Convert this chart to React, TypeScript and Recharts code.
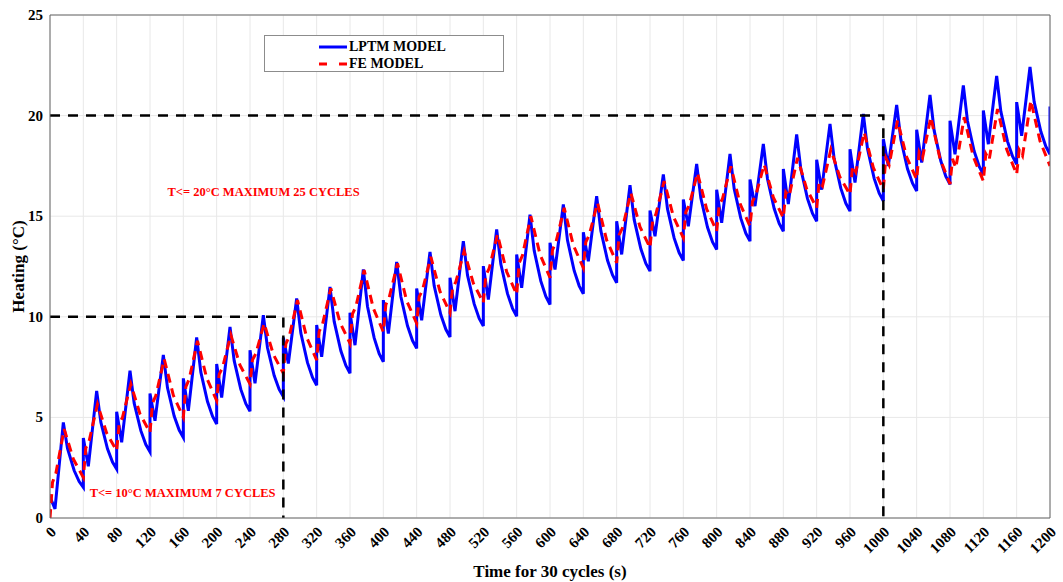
import {
  LineChart,
  Line,
  XAxis,
  YAxis,
  CartesianGrid,
  Legend,
  ReferenceDot,
} from "recharts";

const FONT = "'Liberation Serif', 'Times New Roman', serif";

const cycleStarts = [
  0, 40, 80, 120, 160, 200, 240, 280, 320, 360, 400, 440, 480, 520, 560, 600,
  640, 680, 720, 760, 800, 840, 880, 920, 960, 1000, 1040, 1080, 1120, 1160,
];

// LPTM model, values read per cycle
const lptmJump = [
  1.05, 3.97, 5.28, 6.19, 6.94, 7.65, 8.34, 8.97, 9.59, 10.2, 10.83, 11.41,
  11.94, 12.52, 13.1, 13.68, 14.2, 14.75, 15.28, 15.83, 16.32, 16.82, 17.35,
  17.81, 18.33, 18.83, 19.3, 19.75, 20.25, 20.67,
];
const lptmDip = [
  0.45, 2.57, 3.76, 4.83, 5.33, 5.99, 6.69, 7.68, 8.01, 8.59, 9.17, 9.83,
  10.28, 10.86, 11.44, 12.35, 12.76, 13.1, 14.0, 14.5, 14.67, 15.5, 15.6,
  16.32, 16.67, 17.5, 17.67, 18.08, 18.58, 19.0,
];
const lptmPeak = [
  4.75, 6.32, 7.32, 8.11, 8.97, 9.5, 10.08, 10.91, 11.49, 12.35, 12.73, 13.23,
  13.76, 14.34, 15.08, 15.58, 16.0, 16.54, 17.07, 17.6, 18.1, 18.59, 19.06,
  19.59, 20.08, 20.53, 21.03, 21.5, 21.97, 22.42,
];
const lptmFall1 = [
  3.46, 4.76, 5.71, 6.47, 7.25, 7.82, 8.46, 9.19, 9.77, 10.51, 11.01, 11.54,
  12.07, 12.62, 13.29, 13.8, 14.28, 14.83, 15.36, 15.9, 16.36, 16.85, 17.34,
  17.85, 18.35, 18.82, 19.25, 19.73, 20.21, 20.68,
];
const lptmFall2 = [
  2.36, 3.44, 4.34, 5.07, 5.79, 6.39, 7.08, 7.72, 8.31, 8.95, 9.55, 10.1,
  10.64, 11.15, 11.77, 12.29, 12.81, 13.38, 13.91, 14.45, 14.89, 15.38, 15.87,
  16.38, 16.88, 17.36, 17.74, 18.23, 18.72, 19.21,
];
const lptmFall3 = [
  1.81, 2.78, 3.65, 4.37, 5.06, 5.68, 6.39, 6.99, 7.58, 8.17, 8.82, 9.38,
  9.92, 10.42, 11.01, 11.54, 12.08, 12.65, 13.18, 13.72, 14.15, 14.64, 15.14,
  15.64, 16.14, 16.64, 16.98, 17.48, 17.98, 18.47,
];
const lptmTrough = [
  1.52, 2.43, 3.29, 4.0, 4.67, 5.3, 6.03, 6.6, 7.19, 7.76, 8.43, 9.0, 9.54,
  10.03, 10.61, 11.14, 11.69, 12.27, 12.8, 13.34, 13.76, 14.25, 14.75, 15.25,
  15.75, 16.25, 16.58, 17.08, 17.58, 18.08,
];
const lptmEnd = 20.45;
const lptmOffsets = [0, 6, 16, 21, 29, 35, 40];

// FE model
const feTrough = [
  0, 2.02, 3.34, 4.25, 5.0, 5.83, 6.66, 7.19, 7.85, 8.68, 9.25, 9.67, 10.2,
  10.7, 11.11, 11.94, 12.43, 12.68, 13.43, 13.92, 14.25, 14.5, 14.92, 15.41,
  16.08, 16.33, 16.83, 16.6, 16.75, 17.08, 17.5,
];
const feRise = [
  1.77, 3.48, 4.67, 5.71, 6.52, 7.14, 7.86, 8.65, 9.27, 10.14, 10.61, 10.99,
  11.42, 12.06, 12.67, 13.33, 13.72, 14.07, 14.75, 15.21, 15.54, 15.73, 16.2,
  16.7, 17.5, 17.9, 18.2, 17.85, 18.1, 18.3,
];
const feShoulder = [
  2.21, 3.84, 5.0, 6.08, 6.9, 7.47, 8.17, 9.01, 9.63, 10.5, 10.95, 11.33,
  11.73, 12.4, 13.06, 13.68, 14.05, 14.42, 15.09, 15.54, 15.87, 16.04, 16.0,
  16.5, 17.2, 17.55, 17.9, 17.4, 17.8, 18.0,
];
const fePeak = [
  4.42, 5.66, 6.66, 7.9, 8.8, 9.1, 9.67, 10.83, 11.41, 12.32, 12.65, 12.98,
  13.26, 14.09, 15.0, 15.41, 15.66, 16.16, 16.74, 17.15, 17.48, 17.57, 17.9,
  18.31, 19.17, 19.75, 19.92, 19.92, 20.33, 20.75,
];
const feFall = [
  2.93, 4.22, 5.17, 6.1, 6.96, 7.59, 8.13, 8.98, 9.72, 10.42, 10.8, 11.26,
  11.67, 12.24, 13.1, 13.56, 13.81, 14.47, 14.99, 15.35, 15.63, 15.93, 16.36,
  16.93, 17.41, 17.94, 17.86, 17.95, 18.32, 18.74,
];
const feOffsets = [0, 3, 7, 17, 28];

const limitTemps = [10, 20];
const limitTimes = [280, 1000];
const limitNotes = ["T<= 10°C MAXIMUM 7 CYCLES", "T<= 20°C MAXIMUM 25 CYCLES"];

const xTicks = [
  0, 40, 80, 120, 160, 200, 240, 280, 320, 360, 400, 440, 480, 520, 560, 600,
  640, 680, 720, 760, 800, 840, 880, 920, 960, 1000, 1040, 1080, 1120, 1160,
  1200,
];
const yTicks = [0, 5, 10, 15, 20, 25];
const yMinorTicks = [
  0, 1, 2, 3, 4, 5, 6, 7, 8, 9, 10, 11, 12, 13, 14, 15, 16, 17, 18, 19, 20, 21,
  22, 23, 24, 25,
];

const series = [
  { name: "LPTM MODEL", color: "#0000ff", dash: undefined as string | undefined },
  { name: "FE MODEL", color: "#ff0000", dash: "9 6" },
];

const lptmData = cycleStarts.flatMap((s, k) =>
  [
    lptmJump[k],
    lptmDip[k],
    lptmPeak[k],
    lptmFall1[k],
    lptmFall2[k],
    lptmFall3[k],
    lptmTrough[k],
  ].map((v, i) => ({ t: s + lptmOffsets[i], v }))
);
lptmData.push({ t: 1200, v: lptmEnd });

const feData = cycleStarts.flatMap((s, k) =>
  [feTrough[k], feRise[k], feShoulder[k], fePeak[k], feFall[k]].map((v, i) => ({
    t: s + feOffsets[i],
    v,
  }))
);
feData.push({ t: 1200, v: feTrough[30] });

const guides = limitTemps.map((temp, i) => [
  { t: 0, v: temp },
  { t: limitTimes[i], v: temp },
  { t: limitTimes[i], v: 0 },
]);

const XTick = ({ x, y, payload }: any) => (
  <text
    x={x + 7}
    y={y}
    transform={`rotate(-45 ${x + 7} ${y})`}
    textAnchor="end"
    fontFamily={FONT}
    fontWeight="bold"
    fontSize={15}
    fill="#000"
  >
    {payload.value}
  </text>
);

const YTick = ({ x, y, payload }: any) => (
  <text
    x={x}
    y={y}
    dy={5}
    textAnchor="end"
    fontFamily={FONT}
    fontWeight="bold"
    fontSize={15}
    fill="#000"
  >
    {payload.value}
  </text>
);

const LegendBox = () => (
  <div
    style={{
      width: 240,
      height: 37,
      boxSizing: "border-box",
      border: "1px solid #8c8c8c",
      background: "#fff",
      paddingTop: 2,
      fontFamily: FONT,
    }}
  >
    {series.map((s) => (
      <div
        key={s.name}
        style={{ display: "flex", alignItems: "center", height: 17, marginLeft: 54 }}
      >
        <svg width={28} height={6}>
          <line
            x1={0}
            y1={3}
            x2={28}
            y2={3}
            stroke={s.color}
            strokeWidth={3}
            strokeDasharray={s.dash ? "8 12" : undefined}
          />
        </svg>
        <span style={{ marginLeft: 2, fontSize: 14, fontWeight: "bold", color: "#000" }}>
          {s.name}
        </span>
      </div>
    ))}
  </div>
);

export default function App() {
  return (
    <div style={{ position: "absolute", left: 0, top: 0, background: "#fff" }}>
      <LineChart
        width={1063}
        height={582}
        margin={{ top: 15, right: 13, left: 0, bottom: 0 }}
      >
        <CartesianGrid stroke="#e8e8e8" />
        <XAxis
          dataKey="t"
          type="number"
          domain={[0, 1200]}
          allowDataOverflow
          ticks={xTicks}
          interval={0}
          height={64}
          tickSize={0}
          tickMargin={15}
          tickLine={false}
          axisLine={{ stroke: "#666" }}
          tick={<XTick />}
          label={{
            value: "Time for 30 cycles (s)",
            position: "insideBottom",
            offset: 5,
            fill: "#000",
            fontSize: 17,
            fontWeight: "bold",
            fontFamily: FONT,
          }}
        />
        <XAxis
          xAxisId="bottomTicks"
          type="number"
          domain={[0, 1200]}
          allowDataOverflow
          ticks={xTicks}
          interval={0}
          mirror
          tick={false}
          tickSize={6}
          axisLine={false}
          tickLine={{ stroke: "#666" }}
        />
        <XAxis
          xAxisId="top"
          orientation="top"
          type="number"
          domain={[0, 1200]}
          allowDataOverflow
          ticks={xTicks}
          interval={0}
          mirror
          tick={false}
          tickSize={6}
          axisLine={{ stroke: "#666" }}
          tickLine={{ stroke: "#666" }}
        />
        <YAxis
          type="number"
          domain={[0, 25]}
          allowDataOverflow
          ticks={yTicks}
          interval={0}
          width={50}
          tickSize={0}
          tickMargin={7}
          tickLine={false}
          axisLine={{ stroke: "#666" }}
          tick={<YTick />}
          label={{
            value: "Heating (°C)",
            angle: -90,
            position: "center",
            dx: -7,
            fill: "#000",
            fontSize: 17,
            fontWeight: "bold",
            fontFamily: FONT,
          }}
        />
        <YAxis
          yAxisId="leftTicks"
          type="number"
          domain={[0, 25]}
          allowDataOverflow
          ticks={yMinorTicks}
          interval={0}
          mirror
          tick={false}
          tickSize={5}
          axisLine={false}
          tickLine={{ stroke: "#666" }}
        />
        <YAxis
          yAxisId="right"
          orientation="right"
          type="number"
          domain={[0, 25]}
          allowDataOverflow
          ticks={yMinorTicks}
          interval={0}
          mirror
          tick={false}
          tickSize={5}
          axisLine={{ stroke: "#666" }}
          tickLine={{ stroke: "#666" }}
        />
        <Legend
          layout="vertical"
          align="center"
          verticalAlign="middle"
          wrapperStyle={{ left: 264, top: 35, width: 240, height: 37 }}
          content={<LegendBox />}
        />
        <Line
          data={lptmData}
          dataKey="v"
          name={series[0].name}
          type="linear"
          stroke={series[0].color}
          strokeWidth={3}
          dot={false}
          activeDot={false}
          isAnimationActive={false}
        />
        <Line
          data={feData}
          dataKey="v"
          name={series[1].name}
          type="linear"
          stroke={series[1].color}
          strokeWidth={3}
          strokeDasharray={series[1].dash}
          dot={false}
          activeDot={false}
          isAnimationActive={false}
        />
        {guides.map((g, i) => (
          <Line
            key={i}
            data={g}
            dataKey="v"
            type="linear"
            stroke="#000"
            strokeWidth={2.5}
            strokeDasharray="10 8"
            dot={false}
            activeDot={false}
            legendType="none"
            isAnimationActive={false}
          />
        ))}
        <ReferenceDot
          x={47.6}
          y={1.26}
          r={0}
          fill="none"
          stroke="none"
          label={{
            value: limitNotes[0],
            position: "right",
            offset: 0,
            fill: "#ff0000",
            fontSize: 12.5,
            fontWeight: "bold",
            fontFamily: FONT,
          }}
        />
        <ReferenceDot
          x={141}
          y={16.2}
          r={0}
          fill="none"
          stroke="none"
          label={{
            value: limitNotes[1],
            position: "right",
            offset: 0,
            fill: "#ff0000",
            fontSize: 12.5,
            fontWeight: "bold",
            fontFamily: FONT,
          }}
        />
      </LineChart>
    </div>
  );
}
